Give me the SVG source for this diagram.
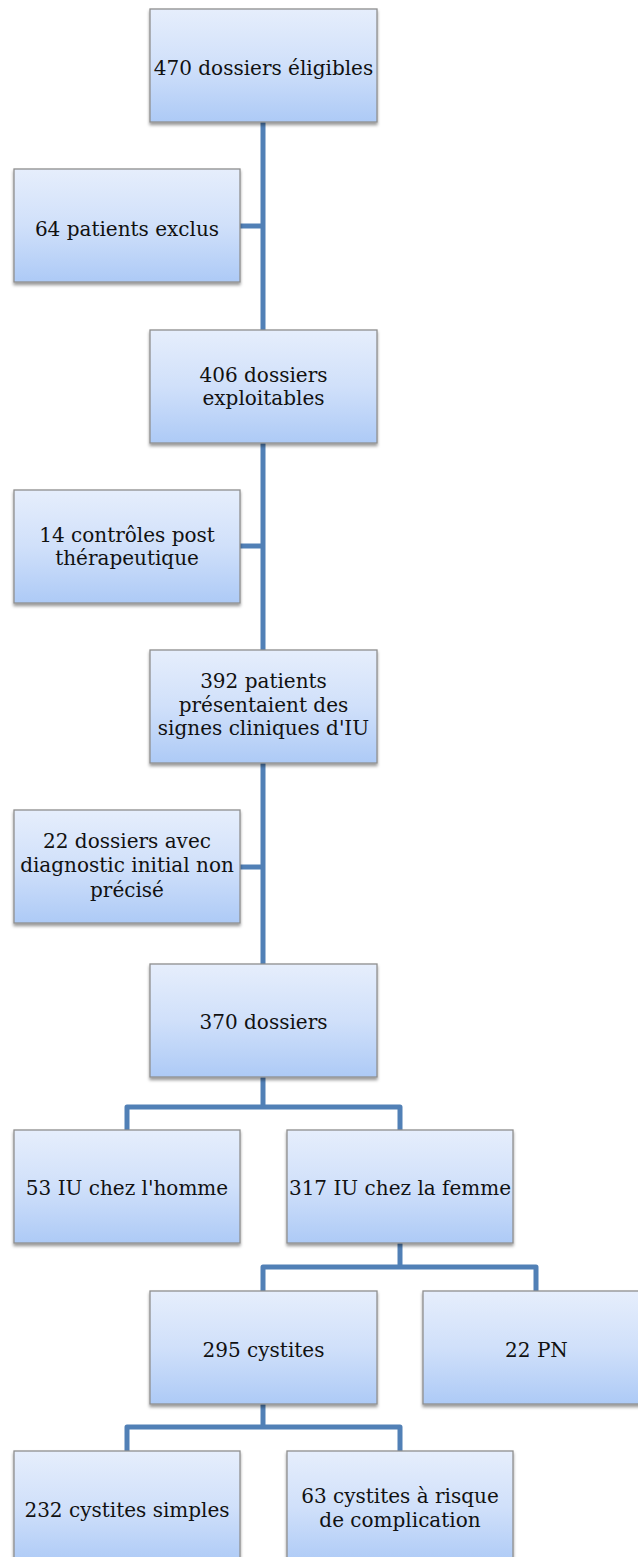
<svg xmlns="http://www.w3.org/2000/svg" width="638" height="1557" viewBox="0 0 638 1557">
<style>
.box{fill:url(#g);stroke:#8f8f8f;stroke-width:1.3;filter:url(#sh)}
.t{font-family:"DejaVu Serif","Liberation Serif",serif;font-size:20px;fill:#111;text-anchor:middle}
.c{fill:none;stroke:#5180b6;stroke-width:5;stroke-linejoin:round}
</style>
<defs>
<linearGradient id="g" x1="0" y1="0" x2="0" y2="1">
<stop offset="0" stop-color="#e6eefc"/>
<stop offset="0.5" stop-color="#d0e0fa"/>
<stop offset="1" stop-color="#adcaf6"/>
</linearGradient>
<filter id="sh" x="-10%" y="-10%" width="120%" height="130%">
<feDropShadow dx="0" dy="2.5" stdDeviation="1.8" flood-color="#000" flood-opacity="0.4"/>
</filter>
</defs>
<g id="connectors">
<path class="c" d="M263,122 V964"/>
<path class="c" d="M240,226 H263"/>
<path class="c" d="M240,546 H263"/>
<path class="c" d="M240,867 H263"/>
<path class="c" d="M263,1077 V1107"/>
<path class="c" d="M127,1130 V1107 H400 V1130"/>
<path class="c" d="M400,1243 V1267"/>
<path class="c" d="M263,1291 V1267 H536 V1291"/>
<path class="c" d="M263,1404 V1427"/>
<path class="c" d="M127,1451 V1427 H400 V1451"/>
</g>
<g id="n470"><rect class="box" x="150" y="9" width="227" height="113"/><text class="t" x="263.5" y="75">470 dossiers éligibles</text></g>
<g id="n64"><rect class="box" x="14" y="169" width="226" height="113"/><text class="t" x="127" y="236">64 patients exclus</text></g>
<g id="n406"><rect class="box" x="150" y="330" width="227" height="113"/><text class="t" x="263.5" y="382">406 dossiers</text><text class="t" x="263.5" y="405">exploitables</text></g>
<g id="n14"><rect class="box" x="14" y="490" width="226" height="113"/><text class="t" x="127" y="542">14 contrôles post</text><text class="t" x="127" y="565">thérapeutique</text></g>
<g id="n392"><rect class="box" x="150" y="650" width="227" height="113"/><text class="t" x="263.5" y="688">392 patients</text><text class="t" x="263.5" y="712">présentaient des</text><text class="t" x="263.5" y="735">signes cliniques d'IU</text></g>
<g id="n22d"><rect class="box" x="14" y="810" width="226" height="113"/><text class="t" x="127" y="848">22 dossiers avec</text><text class="t" x="127" y="872">diagnostic initial non</text><text class="t" x="127" y="897">précisé</text></g>
<g id="n370"><rect class="box" x="150" y="964" width="227" height="113"/><text class="t" x="263.5" y="1029">370 dossiers</text></g>
<g id="n53"><rect class="box" x="14" y="1130" width="226" height="113"/><text class="t" x="127" y="1195">53 IU chez l'homme</text></g>
<g id="n317"><rect class="box" x="287" y="1130" width="226" height="113"/><text class="t" x="400" y="1195">317 IU chez la femme</text></g>
<g id="n295"><rect class="box" x="150" y="1291" width="227" height="113"/><text class="t" x="263.5" y="1357">295 cystites</text></g>
<g id="nPN"><rect class="box" x="423" y="1291" width="227" height="113"/><text class="t" x="536.5" y="1357">22 PN</text></g>
<g id="n232"><rect class="box" x="14" y="1451" width="226" height="113"/><text class="t" x="127" y="1517">232 cystites simples</text></g>
<g id="n63"><rect class="box" x="287" y="1451" width="226" height="113"/><text class="t" x="400" y="1503">63 cystites à risque</text><text class="t" x="400" y="1527">de complication</text></g>
</svg>
